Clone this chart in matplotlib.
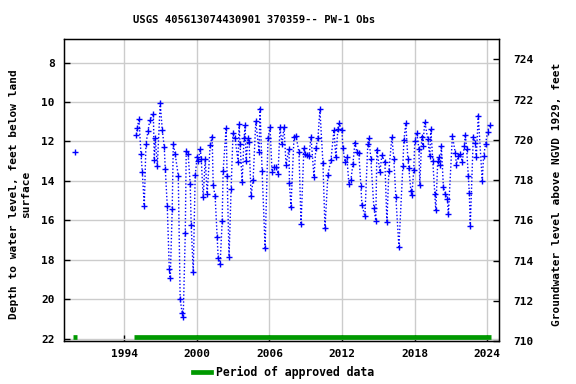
import numpy as np
import matplotlib
matplotlib.use("Agg")
import matplotlib.pyplot as plt

# single early measurement (not connected to later record)
early_year = [1989.96]
early_depth = [12.51]

years = [
    1995.00, 1995.08, 1995.21, 1995.38, 1995.49, 1995.65, 1995.79, 1995.96,
    1996.12, 1996.40, 1996.48, 1996.56, 1996.73, 1996.97, 1997.14, 1997.30,
    1997.39, 1997.55, 1997.72, 1997.80, 1997.96, 1998.05, 1998.21, 1998.46,
    1998.62, 1998.79, 1998.87, 1999.04, 1999.12, 1999.28, 1999.45, 1999.53,
    1999.70, 1999.86, 2000.03, 2000.11, 2000.27, 2000.36, 2000.52, 2000.69,
    2000.85, 2001.10, 2001.26, 2001.35, 2001.51, 2001.68, 2001.76, 2001.92,
    2002.09, 2002.17, 2002.42, 2002.50, 2002.66, 2002.83, 2002.99, 2003.16,
    2003.41, 2003.49, 2003.57, 2003.74, 2003.90, 2003.99, 2004.07, 2004.23,
    2004.32, 2004.48, 2004.65, 2004.87, 2005.14, 2005.22, 2005.39, 2005.64,
    2005.88, 2006.05, 2006.21, 2006.38, 2006.54, 2006.71, 2006.87, 2007.04,
    2007.20, 2007.37, 2007.62, 2007.65, 2007.78, 2008.03, 2008.19, 2008.44,
    2008.61, 2008.85, 2008.94, 2009.10, 2009.27, 2009.43, 2009.68, 2009.84,
    2010.01, 2010.17, 2010.42, 2010.59, 2010.83, 2011.08, 2011.33, 2011.49,
    2011.66, 2011.74, 2011.99, 2012.07, 2012.24, 2012.40, 2012.57, 2012.73,
    2012.90, 2013.06, 2013.23, 2013.39, 2013.56, 2013.64, 2013.89, 2014.13,
    2014.22, 2014.38, 2014.63, 2014.79, 2014.88, 2015.13, 2015.29, 2015.54,
    2015.71, 2015.87, 2016.12, 2016.28, 2016.45, 2016.70, 2017.03, 2017.11,
    2017.27, 2017.44, 2017.52, 2017.69, 2017.77, 2017.93, 2018.01, 2018.18,
    2018.35, 2018.43, 2018.59, 2018.68, 2018.84, 2019.09, 2019.25, 2019.34,
    2019.50, 2019.67, 2019.75, 2019.91, 2020.00, 2020.13, 2020.21, 2020.38,
    2020.54, 2020.71, 2020.79, 2021.12, 2021.37, 2021.45, 2021.61, 2021.78,
    2021.94, 2022.11, 2022.19, 2022.30, 2022.44, 2022.52, 2022.60, 2022.85,
    2023.01, 2023.10, 2023.26, 2023.59, 2023.70, 2023.87, 2024.03, 2024.20,
]
depths = [
    11.65, 11.31, 10.84, 12.66, 13.57, 15.25, 12.14, 11.46,
    10.89, 10.59, 12.92, 11.84, 13.25, 10.05, 11.43, 12.26,
    13.42, 15.25, 18.49, 18.94, 15.45, 12.11, 12.66, 13.73,
    20.01, 20.72, 20.92, 16.66, 12.48, 12.66, 14.18, 16.26,
    18.64, 13.70, 12.77, 12.97, 12.37, 12.87, 14.84, 12.91,
    14.65, 12.20, 11.75, 14.22, 14.79, 16.87, 17.89, 18.23,
    16.05, 13.49, 11.30, 13.77, 17.84, 14.40, 11.55, 11.85,
    13.04, 11.14, 12.14, 14.05, 11.85, 11.19, 13.00, 11.85,
    12.05, 14.78, 13.93, 10.98, 12.52, 10.34, 13.48, 17.40,
    11.81, 11.29, 13.53, 13.32, 13.32, 13.63, 11.29, 12.15,
    11.25, 13.17, 12.36, 14.13, 15.30, 11.75, 11.70, 12.56,
    16.21, 12.31, 12.66, 12.71, 12.76, 11.75, 13.79, 12.31,
    11.82, 10.38, 13.08, 16.41, 13.68, 12.95, 11.43, 12.81,
    11.35, 11.09, 11.40, 12.31, 13.03, 12.81, 14.18, 13.96,
    13.14, 12.06, 12.56, 12.61, 14.27, 15.20, 15.80, 12.11,
    11.80, 12.87, 15.35, 16.01, 12.41, 13.54, 12.71, 13.03,
    16.11, 13.49, 11.77, 12.87, 14.84, 17.34, 13.22, 11.95,
    11.09, 12.87, 13.37, 14.50, 14.74, 13.44, 12.00, 11.56,
    12.36, 14.23, 11.75, 12.21, 10.99, 11.90, 12.76, 11.35,
    12.97, 14.64, 15.50, 13.00, 12.81, 13.20, 12.22, 14.33,
    14.64, 14.93, 15.70, 11.72, 12.61, 13.17, 12.76, 12.66,
    13.02, 12.21, 11.65, 12.36, 13.76, 14.59, 16.31, 11.75,
    12.07, 12.81, 10.69, 14.01, 12.76, 12.11, 11.50, 11.19,
]

# periods of approved data (start, end)
approved = [(1989.80, 1990.12), (1994.80, 2024.33)]

year_ticks = [1994, 2000, 2006, 2012, 2018, 2024]
depth_ticks = [8, 10, 12, 14, 16, 18, 20, 22]
elev_ticks = [710, 712, 714, 716, 718, 720, 722, 724]

plt.rcParams["font.family"] = "DejaVu Sans Mono"
plt.rcParams["font.weight"] = "bold"
plt.rcParams["font.size"] = 8

fig = plt.figure(figsize=(5.76, 3.84), dpi=100)
ax = fig.add_axes([64.3 / 576, 1 - 341 / 384, (499.3 - 64.3) / 576, (341 - 39.3) / 384])

ax.plot(years, depths, color="#0000ff", linestyle=(0, (1, 1.5)), linewidth=1,
        marker="+", markersize=5, markeredgewidth=1)
ax.plot(early_year, early_depth, color="#0000ff", linestyle="none",
        marker="+", markersize=5, markeredgewidth=1)

for start, end in approved:
    ax.hlines(21.92, start, end, color="#009900", linewidth=3.4)

ax.set_xlim(1989.04, 2025.0)
ax.set_ylim(22.12, 6.82)
ax.set_xticks(year_ticks)
ax.set_yticks(depth_ticks)
ax.grid(True, color="#cccccc", linewidth=1)
ax.set_axisbelow(True)
ax.tick_params(direction="in", length=4, width=1)
ax.tick_params(axis="y", pad=7)
ax.tick_params(axis="x", pad=6)
for s in ax.spines.values():
    s.set_linewidth(1)

ax2 = ax.twinx()
ax2.set_ylim(710.03, 725.0)
ax2.set_yticks(elev_ticks)
ax2.tick_params(direction="in", length=4, width=1, pad=10)

fig.text(254.5 / 576, 1 - 20 / 384, "USGS 405613074430901 370359-- PW-1 Obs",
         ha="center", va="center", fontsize=7.6, fontweight="bold")
fig.text(20 / 576, 1 - 194 / 384, "Depth to water level, feet below land\nsurface",
         rotation=90, ha="center", va="center", multialignment="center",
         fontsize=8, fontweight="bold")
fig.text(557 / 576, 1 - 194 / 384, "Groundwater level above NGVD 1929, feet",
         rotation=90, ha="center", va="center", fontsize=8, fontweight="bold")

handle = plt.Line2D([], [], color="#009900", linewidth=3.4)
fig.legend([handle], ["Period of approved data"], loc="center",
           bbox_to_anchor=(284 / 576, 1 - 372 / 384), frameon=False,
           handlelength=1.5, handletextpad=0.5, fontsize=8.3)

fig.savefig("out.png", dpi=100)
plt.close(fig)
